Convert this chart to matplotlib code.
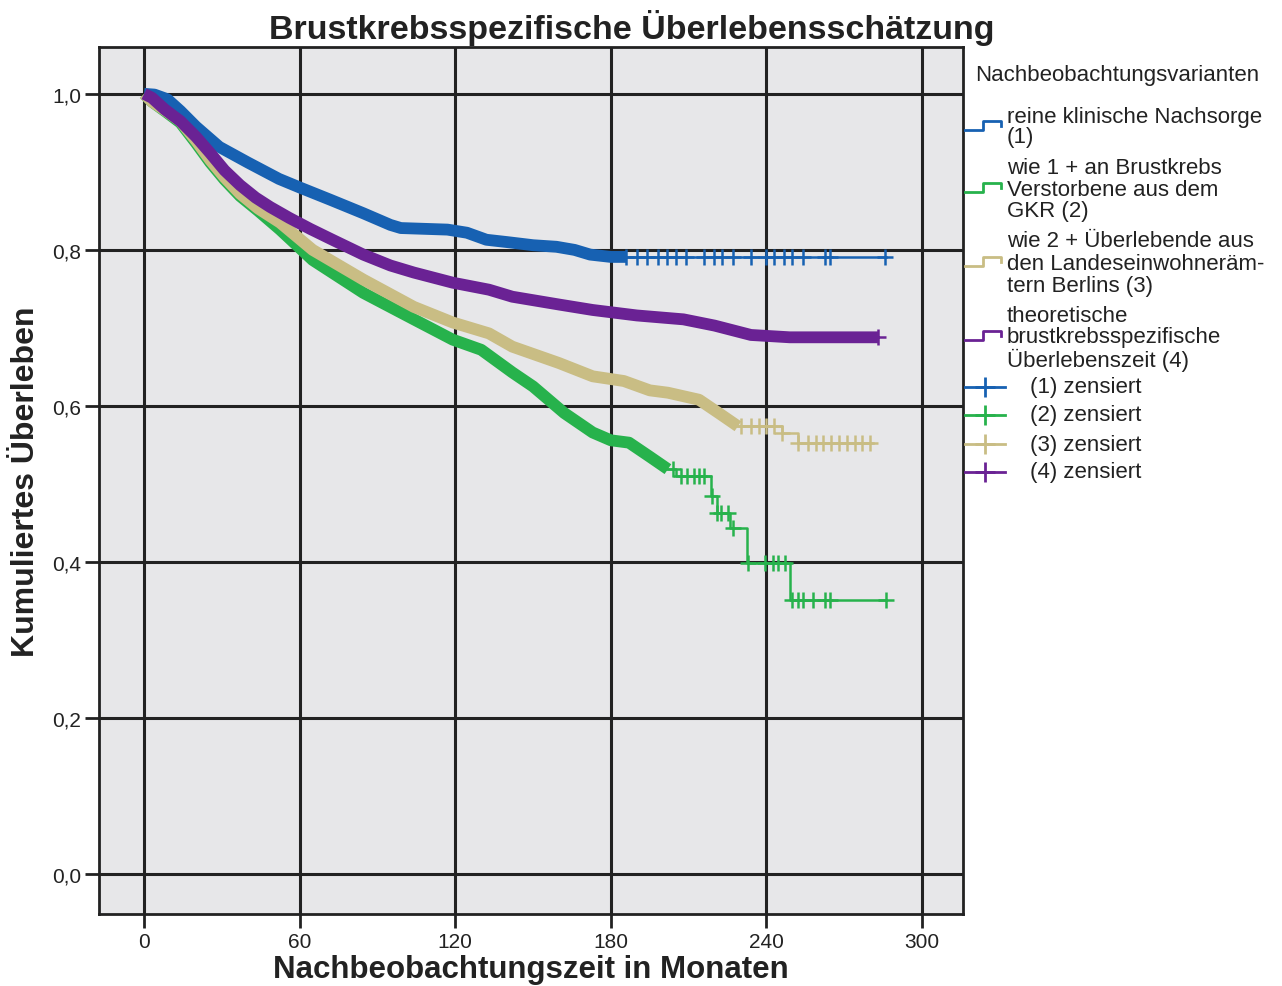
import numpy as np
import matplotlib.pyplot as plt
from matplotlib.lines import Line2D

plt.rcParams['font.family'] = ['Liberation Sans', 'DejaVu Sans']

# Kaplan-Meier Stützpunkte (Monate, kumuliertes Überleben)
t1 = [0, 4, 9, 14, 20, 29, 40, 52, 60, 72, 84.5, 95, 99, 117, 124.5, 132, 140, 150, 159, 166, 172, 180, 186, 286]
s1 = [1.0, 0.999, 0.993, 0.978, 0.958, 0.932, 0.912, 0.891, 0.880, 0.864, 0.847, 0.832, 0.828, 0.826, 0.822, 0.813, 0.810, 0.806, 0.804, 0.800, 0.794, 0.791, 0.791, 0.791]

t2 = [0, 3, 8, 14, 20, 25.5, 31, 37, 44, 52.4, 65, 84.5, 104, 119, 130, 142, 150, 162, 173, 180, 187, 195, 202, 205, 218.5, 221, 226, 232.5, 249, 286]
s2 = [1.0, 0.99, 0.978, 0.963, 0.937, 0.912, 0.890, 0.869, 0.850, 0.826, 0.787, 0.745, 0.711, 0.685, 0.672, 0.643, 0.625, 0.591, 0.566, 0.556, 0.553, 0.535, 0.519, 0.510, 0.484, 0.463, 0.444, 0.399, 0.352, 0.352]

t3 = [0, 3, 8, 14, 20, 25.5, 31, 37, 44, 52.4, 65, 84.5, 104, 119, 133, 142, 160, 173, 185, 195, 202, 214, 222, 229, 246, 252, 281]
s3 = [1.0, 0.99, 0.979, 0.965, 0.94, 0.915, 0.893, 0.872, 0.853, 0.835, 0.800, 0.762, 0.727, 0.707, 0.693, 0.676, 0.655, 0.638, 0.632, 0.620, 0.617, 0.608, 0.590, 0.574, 0.566, 0.553, 0.553]

t4 = [0, 3, 8, 14, 20, 25.5, 31, 37, 43, 48.6, 56, 64, 72, 84.5, 95, 104, 119, 133, 142, 160, 173, 190, 208, 220, 234, 249, 283]
s4 = [1.0, 0.995, 0.98, 0.965, 0.945, 0.924, 0.902, 0.883, 0.867, 0.855, 0.841, 0.827, 0.814, 0.794, 0.780, 0.771, 0.758, 0.749, 0.740, 0.730, 0.723, 0.716, 0.711, 0.703, 0.691, 0.688, 0.688]

# zensierte Fälle im dünn besetzten Ende (Monate)
c1 = [186, 190, 194, 198, 201.6, 205, 209, 216, 219.6, 223, 227, 234, 240, 243, 246.6, 250, 254, 262.6, 264.6, 285.8]
c2 = [204, 207, 209.5, 212, 214, 216, 219, 221, 222.5, 225, 227, 233, 239.5, 242.5, 244.5, 247, 250, 252, 254, 258, 262.6, 264.6, 286]
c3 = [230, 234, 237, 240, 243, 246, 252, 256, 259, 262, 265, 268, 271, 274, 277, 280]
c4 = [283]

# bis hierhin liegen Ereignisse/Zensierungen so dicht, dass die Kurve dick wirkt
dicht = [186, 202, 229, 283]

farben = ['#1761b2', '#27b24c', '#c9bd84', '#6a2294']
kurven = [(t1, s1, c1), (t2, s2, c2), (t3, s3, c3), (t4, s4, c4)]
z_order = [4, 2, 3, 5]

W, H = 1282, 987
fig = plt.figure(figsize=(W / 100, H / 100), dpi=100)
ax = fig.add_axes([99 / W, 1 - 915 / H, (963 - 99) / W, (915 - 48) / H])
ax.set_facecolor('#e7e7e9')


def stufe(t, s, x):
    # Wert der Treppenfunktion an Stelle x
    v = s[0]
    for ti, si in zip(t, s):
        if ti <= x:
            v = si
    return v


for (t, s, c), farbe, z, d in zip(kurven, farben, z_order, dicht):
    t = np.array(t, dtype=float)
    s = np.array(s, dtype=float)
    dick = t <= d
    ax.plot(t[dick], s[dick], color=farbe, lw=8.5, zorder=z,
            solid_capstyle='butt', solid_joinstyle='round')
    rest = t >= d
    ax.plot(t[rest], s[rest], drawstyle='steps-post', color=farbe, lw=1.8,
            zorder=z)
    ax.plot(c, [stufe(t, s, x) for x in c], ls='none', marker='+', ms=12,
            mew=1.8, color=farbe, zorder=z)

ax.set_xlim(-17.4, 315.8)
ax.set_ylim(-0.051, 1.06)
ax.set_xticks([0, 60, 120, 180, 240, 300])
ax.set_yticks([0, 0.2, 0.4, 0.6, 0.8, 1.0])
ax.set_yticklabels(['0,0', '0,2', '0,4', '0,6', '0,8', '1,0'])
ax.grid(True, color='#222222', lw=2.2)
ax.set_axisbelow(True)
for sp in ax.spines.values():
    sp.set_linewidth(2)
    sp.set_color('#222222')
ax.tick_params(direction='out', length=10, width=2, color='#222222',
               labelsize=15, labelcolor='#222222', pad=3)

fig.text(632 / W, 1 - 28 / H, 'Brustkrebsspezifische Überlebensschätzung',
         fontsize=24.5, fontweight='bold', color='#222222', ha='center',
         va='center')
ax.set_xlabel('Nachbeobachtungszeit in Monaten', fontsize=22.5,
              fontweight='bold', color='#222222', labelpad=2)
ax.set_ylabel('Kumuliertes Überleben', fontsize=23, fontweight='bold',
              color='#222222', labelpad=8)


# Legende von Hand (Pixelkoordinaten des Bildes)
def fx(x):
    return x / W


def fy(y):
    return 1 - y / H


fig.text(fx(975), fy(75), 'Nachbeobachtungsvarianten', fontsize=16,
         va='center', color='#222222')

eintraege = [
    ['reine klinische Nachsorge', '(1)'],
    ['wie 1 + an Brustkrebs', 'Verstorbene aus dem', 'GKR (2)'],
    ['wie 2 + Überlebende aus', 'den Landeseinwohneräm-', 'tern Berlins (3)'],
    ['theoretische', 'brustkrebsspezifische', 'Überlebenszeit (4)'],
]
zeilen_y = [[117, 137], [168, 190, 212], [242, 264, 287], [316, 338, 360]]
symbol_y = [127, 189, 263, 337]

for text, ys, sy, farbe in zip(eintraege, zeilen_y, symbol_y, farben):
    for zeile, y in zip(text, ys):
        fig.text(fx(1007), fy(y), zeile, fontsize=16, va='center',
                 color='#222222')
    xs = [965, 983, 983, 1001, 1001]
    yy = [sy + 4, sy + 4, sy - 5, sy - 5, sy]
    fig.add_artist(Line2D([fx(x) for x in xs], [fy(y) for y in yy],
                          color=farbe, lw=2))

for i, (farbe, y) in enumerate(zip(farben, [388, 416, 445, 473])):
    fig.add_artist(Line2D([fx(965), fx(1005)], [fy(y), fy(y)], color=farbe,
                          lw=2))
    fig.add_artist(Line2D([fx(985)], [fy(y)], marker='+', ms=15, mew=2,
                          color=farbe))
    fig.text(fx(1030), fy(y), '(%d) zensiert' % (i + 1), fontsize=16,
             va='center', color='#222222')

fig.savefig('out.png', dpi=100)
